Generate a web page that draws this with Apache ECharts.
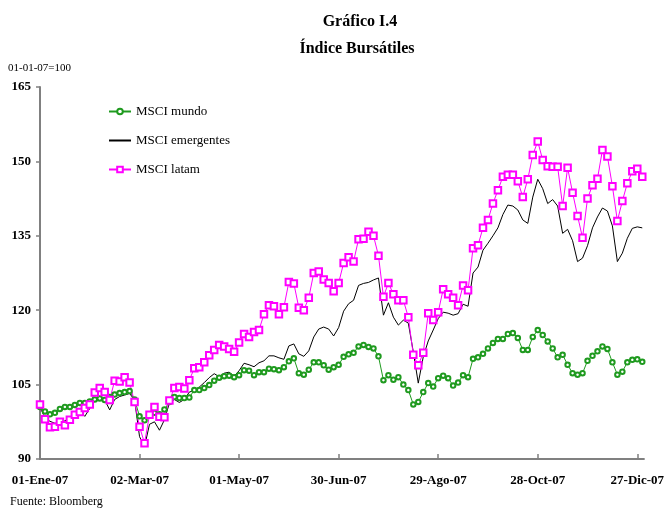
<!DOCTYPE html>
<html>
<head>
<meta charset="utf-8">
<script src="https://cdn.jsdelivr.net/npm/echarts@6/dist/echarts.min.js"></script>
<style>
  html, body { margin: 0; padding: 0; background: #fff; }
  #chart { width: 667px; height: 511px; }
</style>
</head>
<body>
<div id="chart"></div>
<script>
// days counted from 01-Ene-07
var days = [0, 3, 6, 9, 12, 15, 18, 21, 24, 27, 30, 33, 36, 39, 42, 45, 48, 51, 54, 57,
  60, 63, 66, 69, 72, 75, 78, 81, 84, 87, 90, 93, 96, 99, 102, 105, 108, 111, 114, 117,
  120, 123, 126, 129, 132, 135, 138, 141, 144, 147, 150, 153, 156, 159, 162, 165, 168, 171, 174, 177,
  180, 183, 186, 189, 192, 195, 198, 201, 204, 207, 210, 213, 216, 219, 222, 225, 228, 231, 234, 237,
  240, 243, 246, 249, 252, 255, 258, 261, 264, 267, 270, 273, 276, 279, 282, 285, 288, 291, 294, 297,
  300, 303, 306, 309, 312, 315, 318, 321, 324, 327, 330, 333, 336, 339, 342, 345, 348, 351, 354, 357,
  360, 363];

var mundo = [100.5, 99.6, 99.0, 99.3, 100.1, 100.5, 100.5, 100.9, 101.3, 101.3, 101.6, 102.0, 102.2, 101.9, 102.5, 103.0, 103.3, 103.5, 103.7, 102.0,
  98.6, 97.8, 98.9, 99.3, 99.0, 100.0, 101.5, 102.5, 102.3, 102.3, 102.4, 103.9, 103.9, 104.3, 104.9, 105.8, 106.4, 106.7, 106.8, 106.5,
  106.9, 107.9, 107.8, 106.9, 107.5, 107.5, 108.2, 108.1, 107.9, 108.5, 109.7, 110.3, 107.3, 107.0, 108.0, 109.5, 109.5, 108.9, 108.0, 108.5,
  109.0, 110.6, 111.1, 111.4, 112.7, 113.0, 112.6, 112.3, 110.7, 105.9, 106.9, 106.0, 106.5, 105.0, 103.9, 101.0, 101.5, 103.5, 105.3, 104.6,
  106.3, 106.8, 106.3, 104.8, 105.4, 106.9, 106.5, 110.2, 110.5, 111.2, 112.3, 113.4, 114.2, 114.2, 115.2, 115.4, 114.4, 112.0, 112.0, 114.6,
  116.0, 115.0, 113.7, 112.3, 110.5, 111.0, 109.0, 107.3, 107.0, 107.3, 109.8, 110.8, 111.7, 112.7, 112.2, 109.5, 107.0, 107.6, 109.5, 110.0,
  110.1, 109.6];

var emergentes = [100.5, 98.3, 97.6, 97.2, 97.3, 97.7, 98.3, 99.6, 99.6, 98.6, 100.2, 101.8, 102.3, 101.9, 99.9, 102.0, 102.6, 102.9, 103.2, 101.9,
  94.5, 92.5, 97.0, 97.5, 95.8, 97.9, 101.3, 102.0, 101.4, 102.0, 103.5, 103.8, 104.5, 105.4, 106.4, 107.2, 106.6, 107.3, 107.5, 106.7,
  107.8, 109.3, 109.0, 108.6, 109.4, 109.8, 110.8, 110.8, 110.4, 110.1, 112.8, 113.2, 111.2, 110.7, 111.8, 114.6, 116.2, 116.6, 116.2, 114.8,
  116.5, 119.8, 121.3, 122.0, 125.0, 125.4, 125.6, 126.1, 126.5, 119.0, 121.5, 118.6, 117.0, 118.0, 117.4, 111.6, 105.3, 110.6, 113.8, 116.0,
  118.3, 119.6, 119.4, 119.0, 119.3, 121.2, 120.8, 127.5, 128.7, 132.1, 133.5, 135.0, 136.6, 139.3, 141.2, 141.0, 140.2, 138.2, 137.5, 142.8,
  146.4, 144.5, 141.5, 142.3, 141.0, 135.5, 136.3, 134.0, 129.8, 130.5, 133.0, 136.6, 138.8, 140.6, 140.0, 137.0, 129.8, 131.5, 134.5, 136.5,
  136.8, 136.6];

var latam = [101.0, 98.0, 96.4, 96.5, 97.5, 96.8, 97.9, 98.9, 99.5, 100.3, 101.0, 103.4, 104.3, 103.5, 101.9, 105.8, 105.6, 106.5, 105.4, 101.5,
  96.5, 93.2, 98.9, 100.5, 98.5, 98.4, 101.8, 104.3, 104.5, 104.2, 105.9, 108.3, 108.5, 109.5, 110.9, 112.0, 113.0, 112.7, 112.2, 111.6,
  113.5, 115.2, 114.6, 115.6, 116.0, 119.2, 121.0, 120.8, 119.2, 120.6, 125.7, 125.4, 120.5, 120.0, 122.5, 127.5, 127.8, 126.2, 125.5, 123.8,
  125.5, 129.5, 130.7, 129.8, 134.3, 134.4, 135.8, 135.0, 131.0, 122.7, 125.5, 123.2, 122.0, 122.0, 118.6, 111.0, 108.9, 111.4, 119.4, 118.0,
  119.6, 124.2, 123.2, 122.5, 121.0, 125.0, 124.0, 132.5, 133.1, 136.6, 138.2, 141.5, 144.2, 146.9, 147.3, 147.3, 146.0, 142.8, 146.4, 151.3,
  154.0, 150.3, 149.0, 148.9, 148.9, 141.0, 148.7, 143.7, 139.0, 134.6, 142.5, 145.2, 146.5, 152.3, 151.0, 145.0, 138.0, 142.0, 145.6, 148.0,
  148.5, 146.9];

var meses = ['Ene', 'Feb', 'Mar', 'Abr', 'May', 'Jun', 'Jul', 'Ago', 'Sep', 'Oct', 'Nov', 'Dic'];

function pair(vals) {
  return days.map(function (d, i) { return [d, vals[i]]; });
}

function dayLabel(v) {
  var dt = new Date(Date.UTC(2007, 0, 1) + v * 86400000);
  var dd = dt.getUTCDate();
  return (dd < 10 ? '0' : '') + dd + '-' + meses[dt.getUTCMonth()] + '-07';
}

var serif = 'Liberation Serif';
var chart = echarts.init(document.getElementById('chart'));
chart.setOption({
  animation: false,
  backgroundColor: '#fff',
  title: [
    { text: 'Gráfico I.4', left: 355, top: 9, textAlign: 'center',
      textStyle: { fontFamily: serif, fontSize: 16, fontWeight: 'bold', color: '#000' } },
    { text: 'Índice Bursátiles', left: 352, top: 36, textAlign: 'center',
      textStyle: { fontFamily: serif, fontSize: 16, fontWeight: 'bold', color: '#000' } },
    { text: '01-01-07=100', left: 3, top: 58,
      textStyle: { fontFamily: serif, fontSize: 11, fontWeight: 'normal', color: '#000' } },
    { text: 'Fuente: Bloomberg', left: 5, top: 491,
      textStyle: { fontFamily: serif, fontSize: 12, fontWeight: 'normal', color: '#000' } }
  ],
  legend: {
    orient: 'vertical',
    left: 103,
    top: 100,
    itemGap: 16,
    itemWidth: 22,
    itemHeight: 7,
    textStyle: { fontFamily: serif, fontSize: 13, color: '#000' },
    data: ['MSCI mundo', { name: 'MSCI emergentes', itemStyle: { opacity: 0 } }, 'MSCI latam']
  },
  grid: { left: 40, right: 17, top: 87, bottom: 52 },
  xAxis: {
    type: 'value',
    min: 0,
    max: 364,
    interval: 60,
    splitLine: { show: false },
    axisLine: { lineStyle: { color: '#808080', width: 2 } },
    axisTick: { inside: true, length: 5, lineStyle: { color: '#808080', width: 1.5 } },
    axisLabel: {
      formatter: dayLabel, margin: 15,
      fontFamily: serif, fontSize: 13, fontWeight: 'bold', color: '#000'
    }
  },
  yAxis: {
    type: 'value',
    min: 90,
    max: 165,
    interval: 15,
    splitLine: { show: false },
    axisLine: { show: true, lineStyle: { color: '#808080', width: 2 } },
    axisTick: { show: true, length: 4, lineStyle: { color: '#808080', width: 1.5 } },
    axisLabel: { margin: 9, fontFamily: serif, fontSize: 13, fontWeight: 'bold', color: '#000' }
  },
  series: [
    {
      name: 'MSCI mundo', type: 'line', data: pair(mundo),
      symbol: 'emptyCircle', symbolSize: 4.5,
      lineStyle: { color: '#1f9a1f', width: 1 },
      itemStyle: { color: '#1f9a1f', borderWidth: 1 }
    },
    {
      name: 'MSCI emergentes', type: 'line', data: pair(emergentes),
      showSymbol: false, symbol: 'none',
      lineStyle: { color: '#000', width: 1 },
      itemStyle: { color: '#000' }
    },
    {
      name: 'MSCI latam', type: 'line', data: pair(latam),
      symbol: 'emptyRect', symbolSize: 6.5,
      lineStyle: { color: '#ff00ff', width: 1 },
      itemStyle: { color: '#ff00ff', borderWidth: 1 }
    }
  ]
});
</script>
</body>
</html>
